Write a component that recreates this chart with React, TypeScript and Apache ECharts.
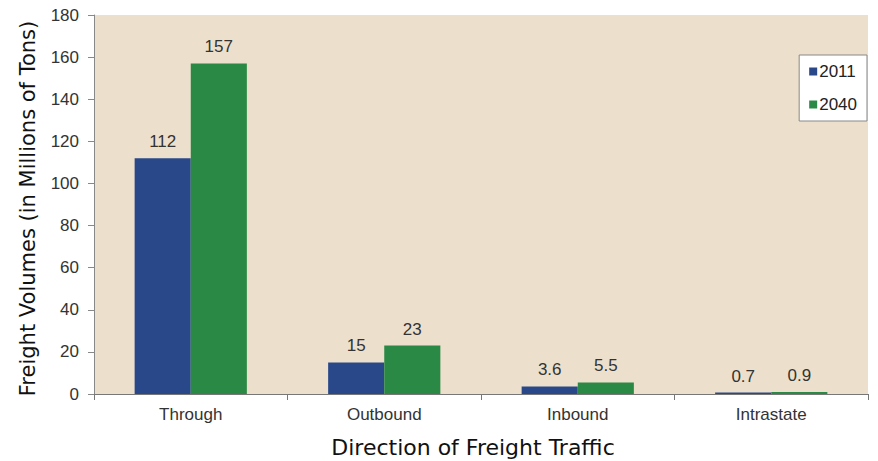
import React, { useEffect, useRef } from "react";
import * as echarts from "echarts";

const categories = ["Through", "Outbound", "Inbound", "Intrastate"];
const values2011 = [112, 15, 3.6, 0.7];
const values2040 = [157, 23, 5.5, 0.9];
const labels2011 = ["112", "15", "3.6", "0.7"];
const labels2040 = ["157", "23", "5.5", "0.9"];

export default function App() {
  const ref = useRef<HTMLDivElement>(null);
  useEffect(() => {
    const chart = echarts.init(ref.current!, null, { renderer: "svg" });
    const tickFont = { fontFamily: "Liberation Sans, Arial, sans-serif", fontSize: 17, color: "#333" };
    chart.setOption({
      animation: false,
      grid: {
        left: 94,
        right: 10,
        top: 15,
        bottom: 67,
        backgroundColor: "#ece0cd",
        show: true,
        borderWidth: 0,
        containLabel: false,
        outerBoundsMode: "none",
      },
      legend: {
        orient: "vertical",
        right: 11,
        top: 55,
        backgroundColor: "#ffffff",
        borderColor: "#888",
        borderWidth: 1,
        padding: [8, 10, 8, 10],
        itemGap: 16,
        itemWidth: 8,
        itemHeight: 8,
        icon: "rect",
        textStyle: { ...tickFont, color: "#222", padding: [0, 0, 0, -3] },
        data: ["2011", "2040"],
      },
      xAxis: {
        type: "category",
        data: categories,
        name: "Direction of Freight Traffic",
        nameLocation: "middle",
        nameGap: 42,
        nameTextStyle: {
          fontFamily: "DejaVu Sans, Verdana, sans-serif",
          fontSize: 22,
          color: "#111",
          padding: [0, 16, 0, 0],
        },
        axisLine: { lineStyle: { color: "#777", width: 1 } },
        axisTick: { show: true, alignWithLabel: false, length: 6, lineStyle: { color: "#777" } },
        axisLabel: { ...tickFont, margin: 12 },
      },
      yAxis: {
        type: "value",
        min: 0,
        max: 180,
        interval: 20,
        name: "Freight Volumes (in Millions of Tons)",
        nameLocation: "middle",
        nameGap: 56,
        nameTextStyle: {
          fontFamily: "DejaVu Sans, Verdana, sans-serif",
          fontSize: 21,
          color: "#111",
          padding: [0, 8, 0, 0],
        },
        axisLine: { show: true, lineStyle: { color: "#888", width: 1 } },
        axisTick: { show: true, length: 6, lineStyle: { color: "#888" } },
        splitLine: { show: false },
        axisLabel: { ...tickFont, margin: 15 },
      },
      series: [
        {
          name: "2011",
          type: "bar",
          data: values2011,
          barGap: "0%",
          barCategoryGap: "42%",
          itemStyle: { color: "#29488a" },
          label: {
            show: true,
            position: "top",
            distance: 8,
            ...tickFont,
            formatter: (p: any) => labels2011[p.dataIndex],
          },
        },
        {
          name: "2040",
          type: "bar",
          data: values2040,
          barGap: "0%",
          barCategoryGap: "42%",
          itemStyle: { color: "#2a8a45" },
          label: {
            show: true,
            position: "top",
            distance: 8,
            ...tickFont,
            formatter: (p: any) => labels2040[p.dataIndex],
          },
        },
      ],
    });
    return () => chart.dispose();
  }, []);
  return <div ref={ref} style={{ width: 878, height: 461, position: "absolute", left: 0, top: 0, background: "#fff" }} />;
}
